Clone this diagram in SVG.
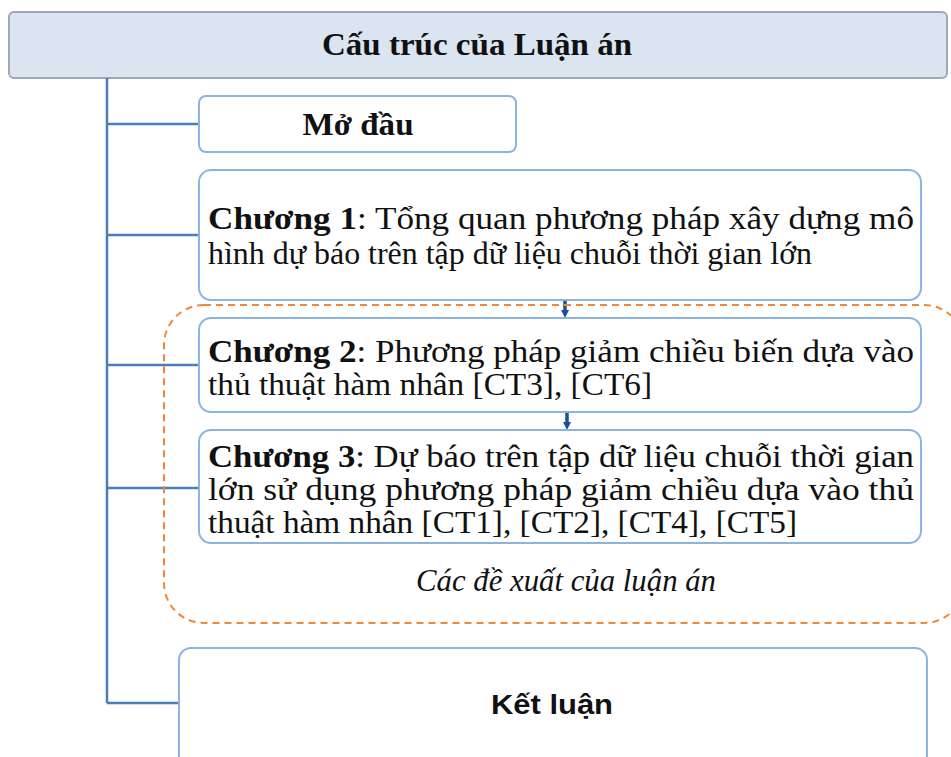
<svg xmlns="http://www.w3.org/2000/svg" width="951" height="757" viewBox="0 0 951 757">
<defs>
<marker id="arr" markerWidth="8" markerHeight="8" refX="4" refY="4" orient="auto" markerUnits="userSpaceOnUse"><path d="M0,0 L8,4 L0,8 Z" fill="#1f4e99"/></marker>
<style>
.box{fill:#fff;stroke:#8db3e2;stroke-width:2}
.t{font-family:"Liberation Serif","Times New Roman",serif;font-size:31px;fill:#111}
.b{font-weight:bold}
.conn{stroke:#4a7ebb;stroke-width:2.5;fill:none}
</style>
</defs>
<rect width="951" height="757" fill="#fff"/>
<g id="title">
<rect x="9" y="12" width="938" height="66" rx="5" fill="#dbe5f1" stroke="#a0a8b4" stroke-width="2"/>
<text x="477" y="55" text-anchor="middle" class="t b" font-size="31" textLength="310" lengthAdjust="spacingAndGlyphs">Cấu trúc của Luận án</text>
</g>
<g id="connectors">
<path class="conn" d="M107,78 V703 M107,124 H199 M107,235 H199 M107,365 H199 M107,488 H199 M107,703 H179"/>
<line x1="565" y1="300" x2="565" y2="314" stroke="#1f4e99" stroke-width="3.5" marker-end="url(#arr)"/>
<line x1="567" y1="412" x2="567" y2="426" stroke="#1f4e99" stroke-width="3.5" marker-end="url(#arr)"/>
</g>
<g id="proposals">
<rect x="164" y="305" width="800" height="318" rx="40" fill="none" stroke="#f0883a" stroke-width="2" stroke-dasharray="7,5"/>
<text x="566" y="591" text-anchor="middle" class="t" font-style="italic" font-size="29" textLength="300" lengthAdjust="spacingAndGlyphs">Các đề xuất của luận án</text>
</g>
<g id="modau">
<rect class="box" x="199" y="96" width="317" height="56" rx="7"/>
<text x="358" y="135" text-anchor="middle" class="t b" textLength="111" lengthAdjust="spacingAndGlyphs">Mở đầu</text>
</g>
<g id="chuong1">
<rect class="box" x="199" y="170" width="722" height="130" rx="12"/>
<text class="t" x="208" y="229" textLength="706" lengthAdjust="spacingAndGlyphs"><tspan class="b">Chương 1</tspan>: Tổng quan phương pháp xây dựng mô</text>
<text class="t" x="208" y="264" textLength="604" lengthAdjust="spacingAndGlyphs">hình dự báo trên tập dữ liệu chuỗi thời gian lớn</text>
</g>
<g id="chuong2">
<rect class="box" x="199" y="318" width="722" height="94" rx="12"/>
<text class="t" x="208" y="362" textLength="706" lengthAdjust="spacingAndGlyphs"><tspan class="b">Chương 2</tspan>: Phương pháp giảm chiều biến dựa vào</text>
<text class="t" x="208" y="395" textLength="444" lengthAdjust="spacingAndGlyphs">thủ thuật hàm nhân [CT3], [CT6]</text>
</g>
<g id="chuong3">
<rect class="box" x="199" y="430" width="722" height="113" rx="12"/>
<text class="t" x="208" y="467" textLength="706" lengthAdjust="spacingAndGlyphs"><tspan class="b">Chương 3</tspan>: Dự báo trên tập dữ liệu chuỗi thời gian</text>
<text class="t" x="208" y="500" textLength="706" lengthAdjust="spacingAndGlyphs">lớn sử dụng phương pháp giảm chiều dựa vào thủ</text>
<text class="t" x="208" y="533" textLength="589" lengthAdjust="spacingAndGlyphs">thuật hàm nhân [CT1], [CT2], [CT4], [CT5]</text>
</g>
<g id="ketluan">
<rect class="box" x="179" y="648" width="748" height="120" rx="12"/>
<text x="552" y="714" text-anchor="middle" font-family="Liberation Sans, Arial, sans-serif" font-weight="bold" font-size="28" fill="#111" textLength="122" lengthAdjust="spacingAndGlyphs">Kết luận</text>
</g>
</svg>
